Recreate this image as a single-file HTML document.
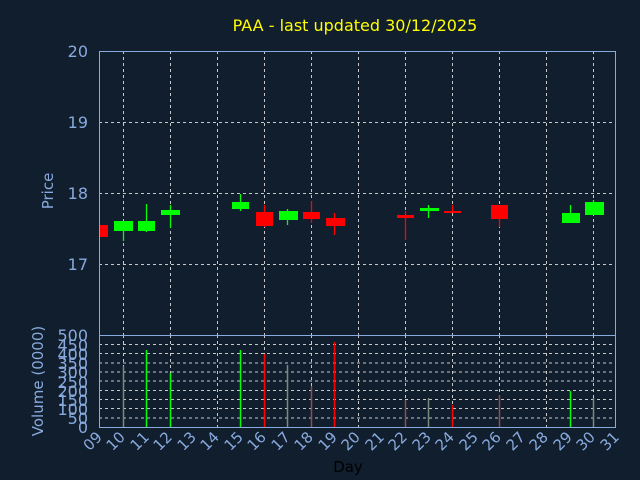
<!DOCTYPE html>
<html><head><meta charset="utf-8"><style>html,body{margin:0;padding:0;background:#111e2e;overflow:hidden;width:640px;height:480px}svg{display:block}</style></head><body>
<svg width="640" height="480" xmlns="http://www.w3.org/2000/svg" font-family="DejaVu Sans, Liberation Sans, sans-serif">
<rect width="640" height="480" fill="#111e2e"/>
<text x="355" y="31" fill="#ffff00" font-size="16" text-anchor="middle">PAA - last updated 30/12/2025</text>
<g stroke="#c8c8c8" stroke-dasharray="3,3" stroke-width="1">
<line x1="99" x2="615" y1="122.5" y2="122.5"/><line x1="99" x2="615" y1="193.5" y2="193.5"/><line x1="99" x2="615" y1="264.5" y2="264.5"/>
<path d="M123.5 51V335M170.5 51V335M217.5 51V335M264.5 51V335M311.5 51V335M358.5 51V335M405.5 51V335M452.5 51V335M499.5 51V335M546.5 51V335M593.5 51V335"/>
<path d="M123.5 335V427M170.5 335V427M217.5 335V427M264.5 335V427M311.5 335V427M358.5 335V427M405.5 335V427M452.5 335V427M499.5 335V427M546.5 335V427M593.5 335V427"/>
<path d="M99 344.5H615M99 353.5H615M99 363H615M99 372H615M99 381H615M99 390.5H615M99 399.5H615M99 408.5H615M99 418H615"/>
</g>
<g stroke="#88aadd" fill="none" stroke-width="1">
<rect x="99.5" y="51.5" width="516" height="376"/>
<line x1="99" x2="615" y1="335.5" y2="335.5"/>
</g>
<g fill="#88aadd" font-size="16" text-anchor="end">
<text x="88" y="57">20</text><text x="88" y="128">19</text><text x="88" y="199">18</text><text x="88" y="270">17</text>
<text x="88" y="341">500</text><text x="88" y="351">450</text><text x="88" y="360">400</text><text x="88" y="369">350</text><text x="88" y="378">300</text><text x="88" y="388">250</text><text x="88" y="397">200</text><text x="88" y="406">150</text><text x="88" y="415">100</text><text x="88" y="424">50</text><text x="88" y="433">0</text>
</g>
<text transform="translate(53,191) rotate(-90)" fill="#88aadd" font-size="15" text-anchor="middle">Price</text>
<text transform="translate(43,381) rotate(-90)" fill="#88aadd" font-size="15" text-anchor="middle">Volume (0000)</text>
<text x="348" y="472" fill="#000" font-size="15" text-anchor="middle">Day</text>
<g fill="#88aadd" font-size="15" text-anchor="end">
<text transform="translate(103,438) rotate(-45)">09</text><text transform="translate(126,438) rotate(-45)">10</text><text transform="translate(150,438) rotate(-45)">11</text><text transform="translate(173,438) rotate(-45)">12</text><text transform="translate(197,438) rotate(-45)">13</text><text transform="translate(220,438) rotate(-45)">14</text><text transform="translate(244,438) rotate(-45)">15</text><text transform="translate(267,438) rotate(-45)">16</text><text transform="translate(291,438) rotate(-45)">17</text><text transform="translate(314,438) rotate(-45)">18</text><text transform="translate(338,438) rotate(-45)">19</text><text transform="translate(361,438) rotate(-45)">20</text><text transform="translate(385,438) rotate(-45)">21</text><text transform="translate(408,438) rotate(-45)">22</text><text transform="translate(432,438) rotate(-45)">23</text><text transform="translate(455,438) rotate(-45)">24</text><text transform="translate(479,438) rotate(-45)">25</text><text transform="translate(502,438) rotate(-45)">26</text><text transform="translate(526,438) rotate(-45)">27</text><text transform="translate(549,438) rotate(-45)">28</text><text transform="translate(573,438) rotate(-45)">29</text><text transform="translate(596,438) rotate(-45)">30</text><text transform="translate(620,438) rotate(-45)">31</text>
</g>
<g stroke-width="1.3">
<path stroke="#00ff00" d="M123.5 221V241M146.5 204V232M170.5 205V228M240.5 194V211M287.5 209V225M428.5 205V218M570.5 205V223M593.5 200V215"/>
<path stroke="#ff0000" d="M264.5 205V227M311.5 201V223M334.5 213V235M405.5 211V240M452.5 205V213M499.5 205V227"/>
</g>
<g fill="#00ff00">
<rect x="114" y="221" width="19" height="10"/><rect x="138" y="221" width="17" height="10"/><rect x="161" y="210" width="19" height="5"/><rect x="232" y="202" width="17" height="7"/><rect x="279" y="211" width="19" height="9"/><rect x="420" y="208" width="19" height="3"/><rect x="562" y="213" width="18" height="10"/><rect x="585" y="202" width="19" height="13"/>
</g>
<g fill="#ff0000">
<rect x="100" y="225" width="8" height="12"/><rect x="256" y="212" width="17" height="14"/><rect x="303" y="212" width="17" height="7"/><rect x="326" y="218" width="19" height="8"/><rect x="397" y="215" width="17" height="3"/><rect x="444" y="211" width="17" height="2"/><rect x="491" y="205" width="17" height="14"/>
</g>
<g stroke-width="1.5">
<path stroke="#00ff00" d="M146.5 350V427M170.5 373V427M240.5 350V427M570.5 391V427"/>
<path stroke="#ff0000" d="M264.5 354V427M334.5 342V427M452.5 405V427"/>
<path stroke="#7a8a7a" d="M123.5 366V427M287.5 365V427M428.5 398V427M593.5 398V427"/>
<path stroke="#8a5050" d="M311.5 386V427M405.5 400V427M499.5 395V427"/>
</g>
</svg>
</body></html>
